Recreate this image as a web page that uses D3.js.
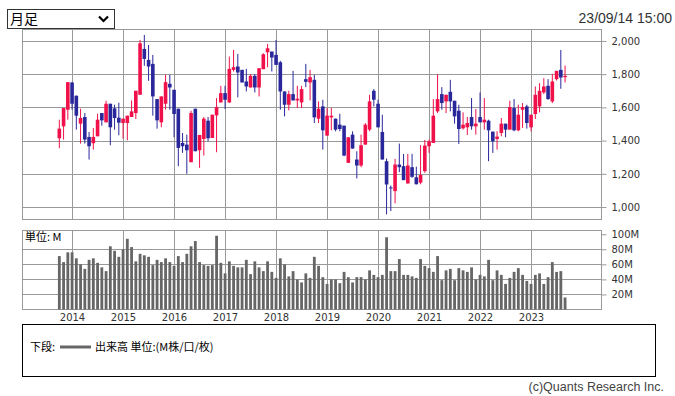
<!DOCTYPE html>
<html>
<head>
<meta charset="utf-8">
<script src="https://cdn.jsdelivr.net/npm/d3@7"></script>
<style>
  body { margin: 0; background: #fff; }
  svg { display: block; }
  text { font-family: "DejaVu Sans", sans-serif; }
</style>
</head>
<body>
<div id="chart"></div>
<script>
// monthly candles, Oct 2013 .. Sep 2023
const opens = [1414,1486,1586,1750,1670,1502,1542,1422,1384,1426,1566,1510,1622,1594,1538,1506,1506,1542,1566,1676,
  1952,1886,1862,1650,1510,1622,1742,1706,1592,1386,1376,1270,1592,1342,1410,1520,1416,1552,1630,1686,
  1630,1826,1846,1826,1756,1720,1790,1720,1830,1932,1936,1916,1872,1696,1616,1680,1642,1630,1770,1750,
  1766,1532,1606,1430,1540,1532,1496,1490,1266,1436,1286,1250,1376,1466,1700,1622,1452,1276,1118,1096,
  1256,1246,1142,1240,1179,1147,1216,1366,1386,1576,1680,1636,1694,1640,1580,1474,1480,1542,1486,1542,
  1510,1520,1454,1410,1446,1502,1466,1596,1462,1586,1606,1480,1560,1606,1690,1730,1636,1770,1826,1782];
const highs = [1526,1596,1752,1752,1672,1592,1566,1452,1476,1562,1566,1640,1622,1616,1628,1532,1550,1642,1700,2006,
  2036,1976,1916,1650,1666,1796,1796,1706,1592,1446,1436,1580,1592,1434,1542,1542,1556,1656,1730,1730,
  1906,1946,1922,1826,1832,1800,1800,1836,1926,1982,1936,2006,1880,1696,1700,1820,1730,1730,1862,1826,
  1796,1636,1646,1596,1596,1532,1562,1490,1420,1456,1336,1436,1506,1676,1710,1646,1556,1292,1130,1290,
  1382,1320,1320,1320,1243,1373,1404,1406,1650,1800,1722,1676,1766,1640,1616,1570,1542,1656,1590,1690,
  1656,1526,1454,1456,1536,1502,1640,1650,1616,1626,1616,1556,1726,1746,1776,1770,1802,1820,1946,1852];
const lows = [1354,1406,1526,1586,1466,1382,1382,1286,1346,1426,1490,1510,1372,1466,1432,1412,1402,1542,1530,1676,
  1850,1760,1550,1472,1480,1586,1586,1420,1246,1326,1200,1270,1336,1236,1310,1396,1416,1330,1630,1590,
  1626,1816,1660,1750,1696,1720,1690,1666,1830,1842,1816,1856,1586,1546,1582,1642,1596,1596,1722,1642,
  1506,1506,1346,1430,1462,1456,1456,1306,1266,1352,1172,1240,1376,1456,1606,1480,1286,956,976,1022,
  1210,1162,1142,1176,1137,1137,1206,1326,1386,1566,1586,1566,1576,1502,1380,1466,1434,1466,1436,1510,
  1466,1276,1326,1346,1426,1420,1466,1456,1456,1476,1472,1456,1530,1570,1680,1646,1626,1762,1712,1750];
const closes = [1472,1596,1752,1622,1550,1536,1406,1366,1422,1526,1522,1622,1480,1536,1508,1532,1550,1576,1700,1986,
  1892,1846,1666,1522,1666,1752,1720,1560,1356,1366,1342,1566,1336,1434,1532,1414,1556,1602,1686,1646,
  1832,1842,1810,1750,1726,1790,1720,1836,1920,1956,1900,1856,1696,1616,1680,1642,1652,1710,1754,1782,
  1540,1592,1462,1550,1550,1466,1470,1310,1420,1352,1250,1372,1496,1636,1646,1480,1286,1136,1112,1256,
  1240,1162,1250,1182,1137,1193,1370,1396,1550,1650,1626,1676,1636,1546,1470,1496,1506,1486,1502,1510,
  1526,1462,1396,1424,1502,1466,1602,1462,1556,1602,1506,1556,1676,1700,1726,1650,1756,1820,1780,1790];
// volume in millions
const volumes = [71,63,76,76,68,60,54,66,68,62,56,51,84,78,70,80,94,83,64,74,
  72,70,59,66,63,68,63,58,71,63,74,84,91,63,59,58,59,98,62,48,
  64,58,56,56,66,47,64,56,51,64,50,42,68,60,44,51,40,36,48,42,
  70,58,43,34,40,40,35,50,43,36,43,43,40,52,46,43,46,96,51,51,
  67,46,46,44,42,67,58,55,50,71,39,52,54,39,55,52,50,56,40,46,
  44,66,39,52,46,34,42,50,55,46,38,34,46,48,34,43,63,50,51,16];
const yearLabels = ['2014','2015','2016','2017','2018','2019','2020','2021','2022','2023'];
const priceTicks = [1000, 1200, 1400, 1600, 1800, 2000];
const volumeTicks = [20, 40, 60, 80, 100];

const W = 675, H = 396;
const fmt = d3.timeFormat('%Y/%m');
const months = d3.timeMonth.range(new Date(2013, 9, 1), new Date(2023, 9, 1)).map(fmt);
const candles = months.map((m, i) => ({m, o: opens[i], h: highs[i], l: lows[i], c: closes[i], v: volumes[i]}));

const plot = {left: 22.5, right: 601.5};
const price = {top: 29.5, bottom: 219.5};
const vol = {top: 230.5, bottom: 309.5};

const x = d3.scaleBand().domain(months).range([57.2, 567.2]);
const cx = m => x(m) + x.bandwidth() / 2;
const gridX = yr => Math.round(cx(yr + '/01')) + 0.5;

const y = d3.scaleLinear().domain([928, 2072]).range([219, 29]);
const vy = d3.scaleLinear().domain([0, 105]).range([309.5, 230.5]);

const svg = d3.select('#chart').append('svg')
  .attr('width', W)
  .attr('height', H);

// period selector
svg.append('rect')
  .attr('x', 7.5).attr('y', 9.5).attr('width', 107).attr('height', 19)
  .attr('fill', '#fff').attr('stroke', '#333');
svg.append('text')
  .text('月足')
  .attr('x', 10).attr('y', 24)
  .style('font-family', '"Noto Sans CJK JP"')
  .style('font-size', '14px')
  .attr('fill', '#000');
svg.append('path')
  .attr('d', 'M99,16.5 L103.5,21 L108,16.5')
  .attr('fill', 'none').attr('stroke', '#000').attr('stroke-width', 2.2);

svg.append('text')
  .text('23/09/14 15:00')
  .attr('x', 672).attr('y', 23)
  .attr('text-anchor', 'end')
  .style('font-family', '"Liberation Sans", Arial, sans-serif')
  .style('font-size', '14px')
  .attr('fill', '#333');

// price panel grid
const gp = svg.append('g');
gp.selectAll('.hgrid')
  .data(priceTicks)
  .enter().append('line')
  .attr('x1', plot.left).attr('x2', plot.right)
  .attr('y1', d => Math.round(y(d)) + 0.5).attr('y2', d => Math.round(y(d)) + 0.5)
  .attr('stroke', '#999');
gp.selectAll('.vgrid')
  .data(yearLabels)
  .enter().append('line')
  .attr('x1', d => gridX(d)).attr('x2', d => gridX(d))
  .attr('y1', price.top).attr('y2', price.bottom)
  .attr('stroke', '#999');
gp.append('rect')
  .attr('x', plot.left).attr('y', price.top)
  .attr('width', plot.right - plot.left).attr('height', price.bottom - price.top)
  .attr('fill', 'none').attr('stroke', '#999');

// candles
const up = '#f0104a', down = '#2a279b';
const cg = svg.append('g');
cg.selectAll('.wick')
  .data(candles)
  .enter().append('line')
  .attr('x1', d => cx(d.m)).attr('x2', d => cx(d.m))
  .attr('y1', d => y(d.h)).attr('y2', d => y(d.l))
  .attr('stroke', d => d.c >= d.o ? up : down)
  .attr('stroke-width', 1);
cg.selectAll('.body')
  .data(candles)
  .enter().append('rect')
  .attr('x', d => cx(d.m) - 1.8)
  .attr('width', 3.6)
  .attr('y', d => y(Math.max(d.o, d.c)))
  .attr('height', d => Math.max(1, Math.abs(y(d.o) - y(d.c))))
  .attr('fill', d => d.c >= d.o ? up : down);

// price axis
svg.append('g')
  .attr('transform', `translate(${plot.right},0)`)
  .call(d3.axisRight(y).tickValues(priceTicks).tickSize(5).tickPadding(5).tickFormat(d3.format(',')))
  .call(g => g.select('.domain').remove())
  .call(g => g.selectAll('line').attr('stroke', '#999'))
  .call(g => g.selectAll('text').attr('fill', '#333').style('font-size', '10px').style('font-family', '"DejaVu Sans"'));

// volume panel grid
const gv = svg.append('g');
gv.selectAll('.hgrid')
  .data(volumeTicks.filter(d => d < 100))
  .enter().append('line')
  .attr('x1', plot.left).attr('x2', plot.right)
  .attr('y1', d => Math.round(vy(d)) + 0.5).attr('y2', d => Math.round(vy(d)) + 0.5)
  .attr('stroke', '#999');
gv.selectAll('.vgrid')
  .data(yearLabels)
  .enter().append('line')
  .attr('x1', d => gridX(d)).attr('x2', d => gridX(d))
  .attr('y1', vol.top).attr('y2', vol.bottom)
  .attr('stroke', '#999');

svg.append('g').selectAll('rect')
  .data(candles)
  .enter().append('rect')
  .attr('x', d => cx(d.m) - 1.4)
  .attr('width', 2.8)
  .attr('y', d => vy(d.v))
  .attr('height', d => vy(0) - vy(d.v))
  .attr('fill', '#666');

gv.append('rect')
  .attr('x', plot.left).attr('y', vol.top)
  .attr('width', plot.right - plot.left).attr('height', vol.bottom - vol.top)
  .attr('fill', 'none').attr('stroke', '#999');

svg.append('text')
  .text('単位: M')
  .attr('x', 25).attr('y', 241)
  .style('font-family', '"Noto Sans CJK JP"')
  .style('font-size', '11px')
  .attr('fill', '#000');

svg.append('g')
  .attr('transform', `translate(${plot.right},0)`)
  .call(d3.axisRight(vy).tickValues(volumeTicks).tickSize(5).tickPadding(5).tickFormat(d => d + 'M'))
  .call(g => g.select('.domain').remove())
  .call(g => g.selectAll('line').attr('stroke', '#999'))
  .call(g => g.selectAll('text').attr('fill', '#333').style('font-size', '10px').style('font-family', '"DejaVu Sans"'));

// year labels
svg.append('g').selectAll('text')
  .data(yearLabels)
  .enter().append('text')
  .text(d => d)
  .attr('x', d => gridX(d))
  .attr('y', 321)
  .attr('text-anchor', 'middle')
  .style('font-size', '10px')
  .attr('fill', '#333');

// legend box
svg.append('rect')
  .attr('x', 22.5).attr('y', 324.5).attr('width', 633).attr('height', 52)
  .attr('fill', 'none').attr('stroke', '#000');
svg.append('text')
  .text('下段:')
  .attr('x', 30).attr('y', 351)
  .style('font-family', '"Noto Sans CJK JP"')
  .style('font-size', '11px')
  .attr('fill', '#000');
svg.append('line')
  .attr('x1', 60).attr('x2', 91).attr('y1', 347).attr('y2', 347)
  .attr('stroke', '#666').attr('stroke-width', 3);
svg.append('text')
  .text('出来高 単位:(M株/口/枚)')
  .attr('x', 95).attr('y', 351)
  .style('font-family', '"Noto Sans CJK JP"')
  .style('font-size', '11px')
  .attr('fill', '#000');

svg.append('text')
  .text('(c)Quants Research Inc.')
  .attr('x', 664).attr('y', 391)
  .attr('text-anchor', 'end')
  .style('font-family', '"Liberation Sans", Arial, sans-serif')
  .style('font-size', '12.5px')
  .attr('fill', '#444');
</script>
</body>
</html>
